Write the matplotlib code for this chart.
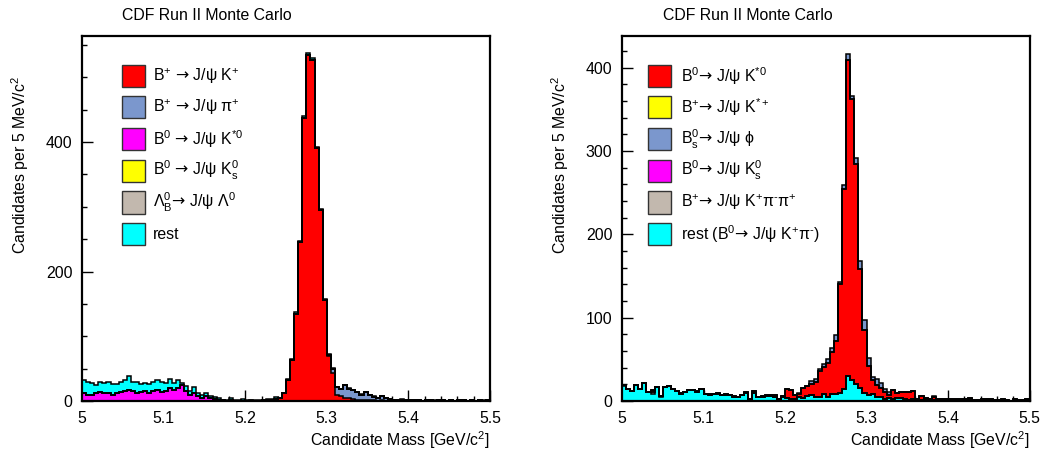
import numpy as np
import matplotlib
matplotlib.use("Agg")
import matplotlib.pyplot as plt
from matplotlib.patches import Rectangle
from matplotlib.ticker import FixedLocator, MultipleLocator

plt.rcParams['font.family'] = ['Liberation Sans', 'DejaVu Sans']
plt.rcParams['mathtext.fontset'] = 'custom'
plt.rcParams['mathtext.rm'] = 'Liberation Sans'
plt.rcParams['mathtext.it'] = 'Liberation Sans'
plt.rcParams['mathtext.bf'] = 'Liberation Sans:bold'
plt.rcParams['mathtext.sf'] = 'DejaVu Sans'

# ---------------- data (5 MeV bins, 5.0 - 5.5 GeV) ----------------
edges = np.round(np.linspace(5.0, 5.5, 101), 4)

# Left panel: B+ -> J/psi K+ sample
red_l = [0,0,0,0,0,0,0,0,0,0,
         0,0,0,0,0,0,0,0,0,0,
         0,0,0,0,0,0,0,0,0,0,
         0,0,0,0,0,0,0,0,0,0,
         0,0,0,0,1,1,2,3,4,12,
         33,63,135,245,437,534,527,391,295,156,
         70,44,9,7,5,4,3,2,2,1,
         1,1,0,1,0,0,0,0,0,0,
         0,0,0,0,0,0,0,0,0,0,
         0,0,0,0,0,0,0,0,0,0]
blue_l = [0]*60 + [1,6,12,11,20,15,14,12,8,13,
                   9,5,4,6,4,3,2,1,2,2,
                   1,1,1,0,1,1,0,1,1,0,
                   1,0,1,1,0,1,0,1,0,1]
magenta_l = [12,10,9,12,14,12,12,9,13,14,
             15,17,15,12,14,16,13,15,17,14,
             16,20,17,20,24,16,10,13,7,5,
             8,4,3,2,1,0,1,0,0,0] + [0]*60
yellow_l = [0]*100
gray_l = [0]*36 + [1,0,0,0,0,1,0,0,0,1] + [0]*54
cyan_l = [21,20,19,13,16,16,18,17,14,15,
          17,22,15,17,12,12,13,15,15,16,
          12,14,11,13,4,7,5,9,6,4,
          5,3,3,2,1,2,2,1,2,3,
          1,0,1,1,1,1,1,3,1,1,
          1,2,2,2,3,3,3,2,2,2,
          1,1,0,1,0,1,0,0,1,0,
          0,1,0,0,1,0,0,0,1,0,
          0,0,1,0,0,0,1,0,0,0,
          0,0,0,1,0,0,0,0,1,0]

# Right panel: B0 -> J/psi K*0 sample
red_r = [0,0,0,0,0,0,0,2,0,0,
         0,0,0,0,1,0,0,0,1,0,
         0,1,0,1,0,1,0,1,0,0,
         1,0,2,0,1,1,1,2,1,1,
         11,10,5,4,12,12,14,18,31,33,
         41,50,64,131,240,379,338,264,143,75,
         35,16,14,11,8,3,11,6,7,9,
         10,10,2,5,2,2,4,3,1,2,
         1,3,1,2,1,3,1,0,2,1,
         2,0,1,2,1,0,2,1,1,2]
yellow_r = [0]*100
blue_r = [0]*43 + [1,0,0,3,3,2,3,
                   4,5,7,2,5,8,3,8,9,12,
                   10,4,8,6,4,4,0,0,0,0,
                   0,0,0,0,0,0,1,0,0,0,
                   0,0,0,0,1,0,0,0,0,0,
                   0,0,0,0,0,0,0,0,0,0]
magenta_r = [0]*100
gray_r = [1,0,0,0,0,0,0,2,0,1] + [0]*90
cyan_r = [18,14,12,19,15,22,11,9,17,5,
          17,18,14,12,9,11,13,13,11,15,
          9,7,9,9,7,7,7,5,5,7,
          10,3,10,5,5,6,6,5,2,5,
          4,3,2,5,4,6,7,5,5,8,
          5,9,8,10,14,30,25,20,16,10,
          7,9,5,5,3,4,2,4,4,2,
          1,2,1,1,2,1,1,0,1,1,
          1,0,1,0,1,1,0,1,0,1,
          0,1,0,1,0,0,1,0,0,1]

AR = r'$\mathsf{→}$'
labels_l = [r'B$^{+}$ ' + AR + r' J/ψ K$^{+}$',
            r'B$^{+}$ ' + AR + r' J/ψ π$^{+}$',
            r'B$^{0}$ ' + AR + r' J/ψ K$^{*0}$',
            r'B$^{0}$ ' + AR + r' J/ψ $\mathrm{K}_{s}^{0}$',
            r'$\mathrm{Λ}_{B}^{0}$' + AR + r' J/ψ Λ$^{0}$',
            'rest']
labels_r = [r'B$^{0}$' + AR + r' J/ψ K$^{*0}$',
            r'B$^{+}$' + AR + r' J/ψ K$^{*+}$',
            r'$\mathrm{B}_{s}^{0}$' + AR + r' J/ψ ϕ',
            r'B$^{0}$' + AR + r' J/ψ $\mathrm{K}_{s}^{0}$',
            r'B$^{+}$' + AR + r' J/ψ K$^{+}$π$^{\text{-}}$π$^{+}$',
            r'rest (B$^{0}$' + AR + r' J/ψ K$^{+}$π$^{\text{-}}$)']

C_RED = '#ff0000'
C_BLUE = '#7b97cd'
C_MAG = '#ff00ff'
C_YEL = '#ffff00'
C_GRAY = '#c2b8ae'
C_CYAN = '#00ffff'

W, H = 1044, 455
fig = plt.figure(figsize=(W/100, H/100), dpi=100)

FS = 11.4


def draw_stack(ax, layers):
    cum = np.zeros(100)
    cums = []
    for vals, col in layers:
        cum = cum + np.asarray(vals, float)
        cums.append((cum.copy(), col))
    for c, col in reversed(cums):
        ax.stairs(c, edges, baseline=0, fill=True, facecolor=col,
                  edgecolor='none', zorder=2)
    for c, col in reversed(cums):
        ax.stairs(c, edges, baseline=None, fill=False, color='black',
                  linewidth=1.1, zorder=3)


def style_axes(ax, ymax, ymajor, yminor):
    ax.set_xlim(5.0, 5.5)
    ax.set_ylim(0, ymax)
    ax.xaxis.set_major_locator(FixedLocator([5.0, 5.1, 5.2, 5.3, 5.4, 5.5]))
    ax.set_xticklabels(['5', '5.1', '5.2', '5.3', '5.4', '5.5'])
    ax.xaxis.set_minor_locator(MultipleLocator(0.02))
    ax.yaxis.set_major_locator(MultipleLocator(ymajor))
    ax.yaxis.set_minor_locator(MultipleLocator(yminor))
    ax.tick_params(which='both', direction='in', top=False, right=False,
                   labelsize=FS, width=1.0, color='black')
    ax.tick_params(which='major', length=8)
    ax.tick_params(which='minor', length=3.5)
    ax.tick_params(axis='x', which='major', pad=7)
    ax.tick_params(axis='y', which='major', pad=7)
    for s in ax.spines.values():
        s.set_linewidth(1.6)
    ax.set_facecolor('white')


def legend(x0, labels, colors, tx):
    for i, (lab, col) in enumerate(zip(labels, colors)):
        yc = 75.7 + 31.7 * i
        fig.add_artist(Rectangle((x0 / W, 1 - (yc + 11) / H), 23 / W, 22 / H,
                                 transform=fig.transFigure, facecolor=col,
                                 edgecolor='#333333', linewidth=1.0))
        fig.text(tx / W, 1 - yc / H, lab, fontsize=FS, va='center', ha='left')


# ---- left panel ----
ax1 = fig.add_axes([82 / W, (H - 401) / H, 408 / W, 365 / H])
draw_stack(ax1, [(red_l, C_RED), (blue_l, C_BLUE), (magenta_l, C_MAG),
                 (yellow_l, C_YEL), (gray_l, C_GRAY), (cyan_l, C_CYAN)])
style_axes(ax1, 564, 200, 50)
legend(122, labels_l, [C_RED, C_BLUE, C_MAG, C_YEL, C_GRAY, C_CYAN], 153)
fig.text(207 / W, 1 - 16 / H, 'CDF Run II Monte Carlo', fontsize=FS,
         ha='center', va='center')
fig.text(490 / W, 1 - 440 / H, r'Candidate Mass [GeV/c$^{2}$]', fontsize=FS,
         ha='right', va='center')
fig.text(20 / W, 1 - 76 / H, r'Candidates per 5 MeV/c$^{2}$', fontsize=FS,
         ha='center', va='top', rotation=90)

# ---- right panel ----
ax2 = fig.add_axes([622 / W, (H - 401) / H, 407.5 / W, 365 / H])
draw_stack(ax2, [(cyan_r, C_CYAN), (gray_r, C_GRAY), (magenta_r, C_MAG),
                 (red_r, C_RED), (yellow_r, C_YEL), (blue_r, C_BLUE)])
style_axes(ax2, 438, 100, 20)
legend(648, labels_r, [C_RED, C_YEL, C_BLUE, C_MAG, C_GRAY, C_CYAN], 681)
fig.text(748 / W, 1 - 16 / H, 'CDF Run II Monte Carlo', fontsize=FS,
         ha='center', va='center')
fig.text(1030 / W, 1 - 440 / H, r'Candidate Mass [GeV/c$^{2}$]', fontsize=FS,
         ha='right', va='center')
fig.text(560 / W, 1 - 76 / H, r'Candidates per 5 MeV/c$^{2}$', fontsize=FS,
         ha='center', va='top', rotation=90)

fig.savefig('out.png', dpi=100, facecolor='white')
